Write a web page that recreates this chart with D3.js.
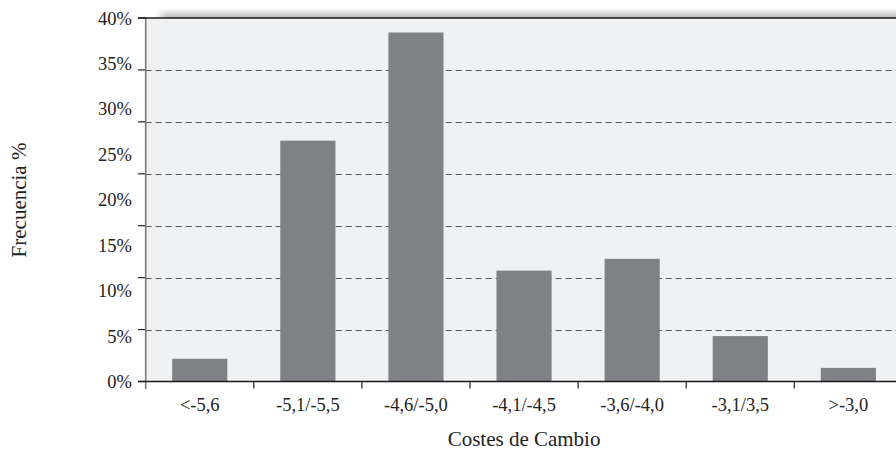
<!DOCTYPE html>
<html>
<head>
<meta charset="utf-8">
<script src="https://cdn.jsdelivr.net/npm/d3@7"></script>
<style>
  html, body { margin: 0; padding: 0; background: #ffffff; overflow: hidden; }
  svg { display: block; }
</style>
</head>
<body>
<svg id="chart" width="896" height="451"></svg>
<script>
// ---- Data ----
const categories = ["<-5,6", "-5,1/-5,5", "-4,6/-5,0", "-4,1/-4,5", "-3,6/-4,0", "-3,1/3,5", ">-3,0"];
const frequency = [2.5, 26.5, 38.4, 12.2, 13.5, 5.0, 1.5];
const yTickValues = [0, 5, 10, 15, 20, 25, 30, 35, 40];
const yTickLabels = ["0%", "5%", "10%", "15%", "20%", "25%", "30%", "35%", "40%"];
const xTitle = "Costes de Cambio";
const yTitle = "Frecuencia %";
const gridDivisions = 7;

// ---- Layout ----
const FONT = "'Liberation Serif', 'Times New Roman', Times, 'DejaVu Serif', serif";
const svg = d3.select("#chart").attr("font-family", FONT);
const pLeft = 145.7, pRight = 902.4, pTop = 18, pBottom = 381.5;

const x = d3.scaleBand().domain(categories).range([pLeft, pRight])
  .paddingInner(0.49).paddingOuter(0.245);
const y = d3.scaleLinear().domain([0, 40]).range([pBottom, pTop]);
const step = x.step();
const boundaries = categories.map((c, i) => pLeft + i * step);
const gridVals = d3.range(0, gridDivisions + 1).map(k => 40 * k / gridDivisions);

// shadow gradient above plot
const defs = svg.append("defs");
const grad = defs.append("linearGradient").attr("id", "shadow").attr("x1", 0).attr("y1", 0).attr("x2", 0).attr("y2", 1);
grad.append("stop").attr("offset", "0%").attr("stop-color", "#ffffff");
grad.append("stop").attr("offset", "60%").attr("stop-color", "#d6d6d6");
grad.append("stop").attr("offset", "100%").attr("stop-color", "#b4b4b4");
const gradL = defs.append("linearGradient").attr("id", "shadowL").attr("x1", 0).attr("y1", 0).attr("x2", 1).attr("y2", 0);
gradL.append("stop").attr("offset", "0%").attr("stop-color", "#ffffff").attr("stop-opacity", 1);
gradL.append("stop").attr("offset", "100%").attr("stop-color", "#ffffff").attr("stop-opacity", 0);

svg.append("rect").attr("x", 155).attr("y", 8).attr("width", 896 - 155).attr("height", pTop - 8)
  .attr("fill", "url(#shadow)");
svg.append("rect").attr("x", 155).attr("y", 8).attr("width", 12).attr("height", pTop - 8)
  .attr("fill", "url(#shadowL)");

// plot background
svg.append("rect").attr("x", pLeft).attr("y", pTop).attr("width", pRight - pLeft).attr("height", pBottom - pTop)
  .attr("fill", "#f0f1f3");

// gridlines (dashed)
svg.append("g").selectAll("line").data(gridVals.filter(v => v > 0 && v < 40)).join("line")
  .attr("x1", pLeft).attr("x2", pRight)
  .attr("y1", d => Math.round(y(d)) + 0.5).attr("y2", d => Math.round(y(d)) + 0.5)
  .attr("stroke", "#5a5a5a").attr("stroke-width", 1).attr("stroke-dasharray", "6,4");

// bars
svg.append("g").selectAll("rect").data(categories).join("rect")
  .attr("x", d => x(d))
  .attr("width", x.bandwidth())
  .attr("y", (d, i) => y(frequency[i]))
  .attr("height", (d, i) => y(0) - y(frequency[i]))
  .attr("fill", "#808184");

// y tick marks at gridlines
svg.append("g").selectAll("line").data(gridVals).join("line")
  .attr("x1", 138).attr("x2", pLeft)
  .attr("y1", d => y(d)).attr("y2", d => y(d))
  .attr("stroke", "#222").attr("stroke-width", 1.2);

// left axis line
svg.append("line").attr("x1", pLeft).attr("x2", pLeft).attr("y1", pTop).attr("y2", pBottom + 7.5)
  .attr("stroke", "#7a7a7a").attr("stroke-width", 1.6);

// top border
svg.append("line").attr("x1", 138).attr("x2", 896).attr("y1", pTop).attr("y2", pTop)
  .attr("stroke", "#1a1a1a").attr("stroke-width", 1.6);

// bottom axis line
svg.append("line").attr("x1", 138).attr("x2", 896).attr("y1", pBottom).attr("y2", pBottom)
  .attr("stroke", "#1a1a1a").attr("stroke-width", 1.6);

// x tick marks at category boundaries
svg.append("g").selectAll("line").data(boundaries.slice(1)).join("line")
  .attr("x1", d => d).attr("x2", d => d).attr("y1", pBottom).attr("y2", pBottom + 7)
  .attr("stroke", "#222").attr("stroke-width", 1.2);

// y tick labels
const yLab = d3.scaleLinear().domain([0, 40]).range([pBottom, pTop]);
svg.append("g").selectAll("text").data(yTickValues).join("text")
  .attr("font-family", FONT).attr("fill", "#222")
  .attr("x", 132).attr("y", d => yLab(d) + 6.5)
  .attr("text-anchor", "end").attr("font-size", 18.5)
  .text((d, i) => yTickLabels[i]);

// x tick labels
svg.append("g").selectAll("text").data(categories).join("text")
  .attr("font-family", FONT).attr("fill", "#222")
  .attr("x", d => x(d) + x.bandwidth() / 2).attr("y", 411)
  .attr("text-anchor", "middle").attr("font-size", 18.5)
  .text(d => d);

// axis titles
svg.append("text").attr("font-family", FONT).attr("fill", "#222")
  .attr("x", (pLeft + pRight) / 2).attr("y", 446)
  .attr("text-anchor", "middle").attr("font-size", 21).text(xTitle);
svg.append("text").attr("font-family", FONT).attr("fill", "#222")
  .attr("transform", "translate(26,200) rotate(-90)")
  .attr("text-anchor", "middle").attr("font-size", 21).text(yTitle);
</script>
</body>
</html>
